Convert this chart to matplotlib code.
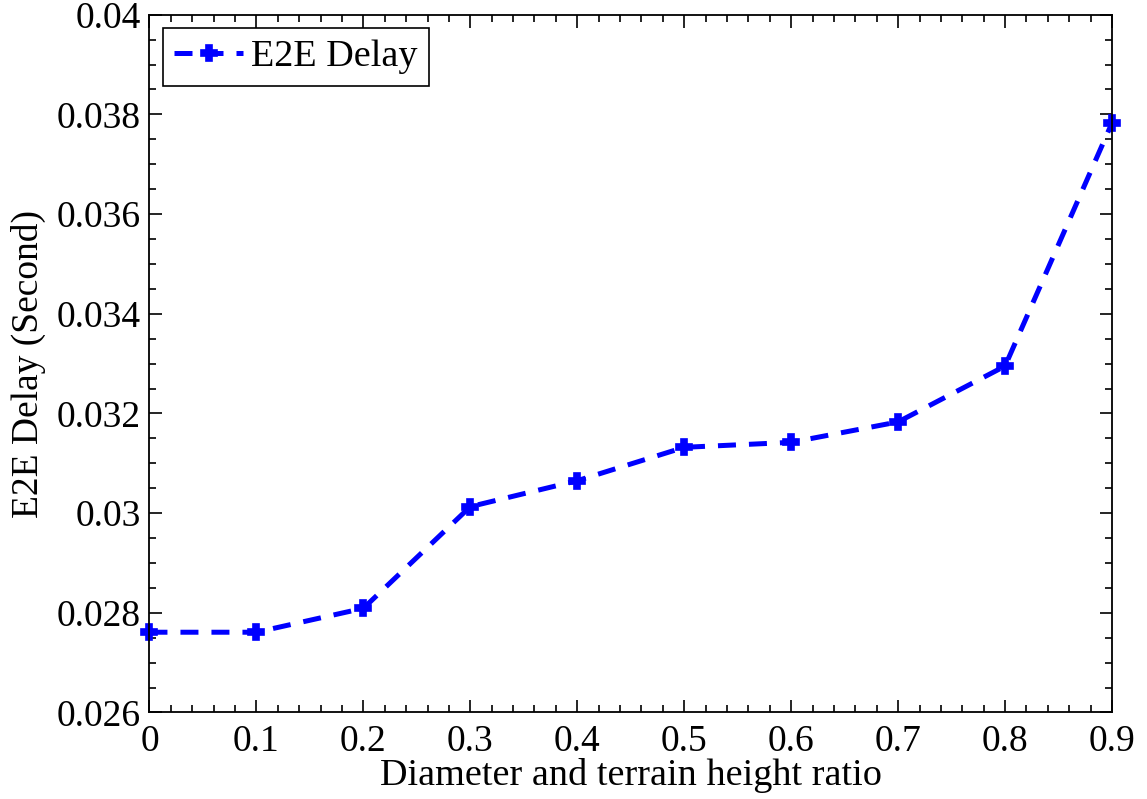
import numpy as np
import matplotlib
matplotlib.use('Agg')
import matplotlib.pyplot as plt
from matplotlib.ticker import MultipleLocator

# end-to-end delay vs. diameter/terrain height ratio
ratio = [0, 0.1, 0.2, 0.3, 0.4, 0.5, 0.6, 0.7, 0.8, 0.9]
delay = [0.02761, 0.02761, 0.02809, 0.03013, 0.03065, 0.03132, 0.03142, 0.03183, 0.03295, 0.03783]
xtick_labels = ['0', '0.1', '0.2', '0.3', '0.4', '0.5', '0.6', '0.7', '0.8', '0.9']
ytick_vals = [0.026, 0.028, 0.03, 0.032, 0.034, 0.036, 0.038, 0.04]
ytick_labels = ['0.026', '0.028', '0.03', '0.032', '0.034', '0.036', '0.038', '0.04']

plt.rcParams['font.family'] = 'Liberation Serif'

fig = plt.figure(figsize=(11.47, 7.99), dpi=100)
ax = fig.add_axes([0.1303, 0.1083, 0.8392, 0.8733])

ax.plot(ratio, delay, color='blue', lw=3.6, linestyle=(0, (3.6, 2.6)),
        dash_capstyle='butt', marker='P', markersize=11, markeredgewidth=1.2,
        markeredgecolor='blue', label='E2E Delay', clip_on=False)

ax.set_xlim(0, 0.9)
ax.set_ylim(0.026, 0.04)
ax.set_xticks(ratio)
ax.set_xticklabels(xtick_labels)
ax.set_yticks(ytick_vals)
ax.set_yticklabels(ytick_labels)
ax.xaxis.set_minor_locator(MultipleLocator(0.02))
ax.yaxis.set_minor_locator(MultipleLocator(0.0005))

ax.tick_params(which='both', direction='in', top=True, right=True, labelsize=27, width=1.2)
ax.tick_params(axis='x', which='major', pad=9)
ax.tick_params(axis='y', which='major', pad=6)
ax.tick_params(which='major', length=9)
ax.tick_params(which='minor', length=5)
for s in ax.spines.values():
    s.set_linewidth(1.3)

ax.set_xlabel('Diameter and terrain height ratio', fontsize=27.5, labelpad=-1)
ax.set_ylabel('E2E Delay (Second)', fontsize=27, labelpad=8)

leg = ax.legend(loc='upper left', fontsize=27.5, fancybox=False, framealpha=1,
                edgecolor='black', handlelength=1.8, borderpad=0.3,
                borderaxespad=0.35, handletextpad=0.2)
leg.get_frame().set_linewidth(1.2)

fig.savefig('out.png', dpi=100)
